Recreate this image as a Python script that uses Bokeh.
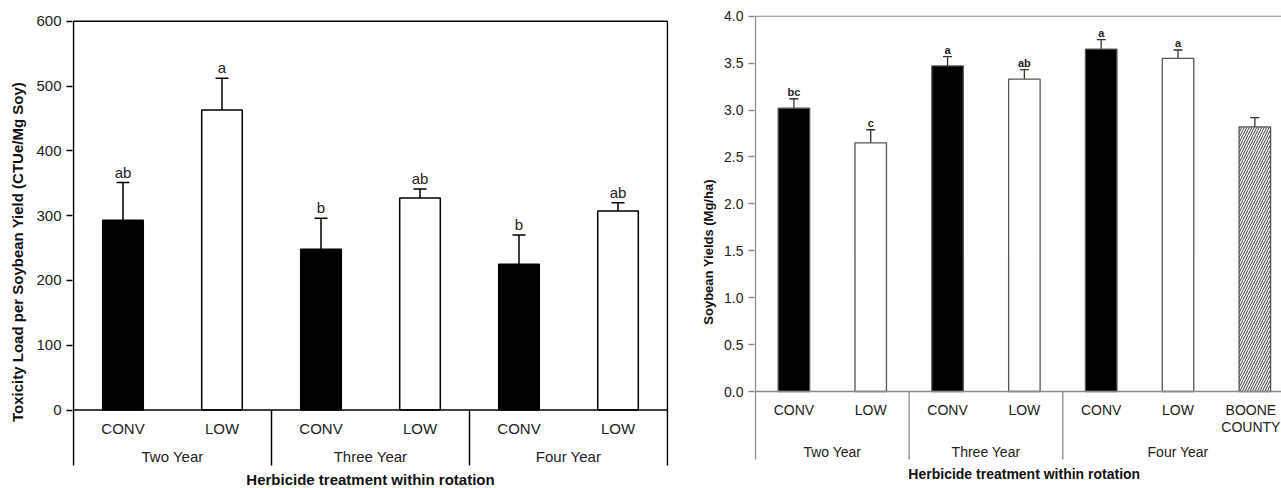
import numpy as np
from bokeh.plotting import figure
from bokeh.models import ColumnDataSource, Range1d, FixedTicker, Whisker, TeeHead, NumeralTickFormatter
from bokeh.layouts import row
from bokeh.embed import file_html
from bokeh.resources import INLINE
from bokeh.core.properties import value

# ---------------- data: left panel (toxicity load) ----------------
tox_groups = ["Two Year", "Three Year", "Four Year"]
tox_group_sizes = [2, 2, 2]
tox_treat = ["CONV", "LOW", "CONV", "LOW", "CONV", "LOW"]
tox_mean = [293, 463, 248, 327, 225, 307]
tox_err = [58, 49, 48, 14, 45, 13]
tox_letters = ["ab", "a", "b", "ab", "b", "ab"]
tox_ticks = [0, 100, 200, 300, 400, 500, 600]

# ---------------- data: right panel (soybean yields) ----------------
yld_groups = ["Two Year", "Three Year", "Four Year"]
yld_group_sizes = [2, 2, 3]
yld_treat = ["CONV", "LOW", "CONV", "LOW", "CONV", "LOW", "BOONE\nCOUNTY"]
yld_mean = [3.02, 2.65, 3.47, 3.33, 3.65, 3.55, 2.82]
yld_err = [0.10, 0.14, 0.10, 0.10, 0.10, 0.09, 0.10]
yld_letters = ["bc", "c", "a", "ab", "a", "a", ""]
yld_ticks = [0.0, 0.5, 1.0, 1.5, 2.0, 2.5, 3.0, 3.5, 4.0]

XTITLE = "Herbicide treatment within rotation"
FONT = "Liberation Sans"
FILL = {"CONV": "black", "LOW": "white"}
H = 488
TOP = 15  # shared top border of both frames (frames are aligned in a row)


def style_fig(p):
    p.grid.visible = False
    p.outline_line_color = None
    p.background_fill_color = "white"
    p.border_fill_color = "white"
    p.xaxis.visible = False


def make_source(treat, mean, err, letters):
    n = len(treat)
    x = np.arange(n) + 0.5
    mean = np.array(mean, dtype=float)
    err = np.array(err, dtype=float)
    fills = [FILL.get(t, "white") for t in treat]
    hatch = ["" if t in FILL else "/" for t in treat]
    return ColumnDataSource(dict(x=x, top=mean, upper=mean + err, lower=mean - err,
                                 fill=fills, hatch=hatch, treat=treat, letter=letters))


def style_yaxis(ax, ticks, color, width, font_size, label, label_size, standoff):
    ax.ticker = FixedTicker(ticks=ticks)
    ax.axis_line_color = None
    ax.major_tick_line_color = color
    ax.major_tick_line_width = width
    ax.major_tick_out = 6
    ax.major_tick_in = 0
    ax.minor_tick_line_color = None
    ax.major_label_standoff = 5
    ax.major_label_text_font = FONT
    ax.major_label_text_font_size = font_size
    ax.major_label_text_color = "#222"
    ax.axis_label = label
    ax.axis_label_text_font = FONT
    ax.axis_label_text_font_size = label_size
    ax.axis_label_text_font_style = "bold"
    ax.axis_label_text_color = "#111"
    ax.axis_label_standoff = standoff


# ================= LEFT =================
n1 = len(tox_treat)
ymax1 = tox_ticks[-1]
PPU1 = 0.648                 # px per unit
Y0_1, YTOP_1 = 409.5, 20.7   # pixel rows of 0 and of the top tick
bot1 = -(465 - Y0_1) / PPU1  # bottom of the group separators
p1 = figure(width=698, height=H, output_backend="svg", toolbar_location=None,
            x_range=Range1d(-0.01, n1 + 0.01),
            y_range=Range1d(-(H - Y0_1) / PPU1, ymax1 + (YTOP_1 - TOP) / PPU1),
            min_border_left=72, min_border_right=30, min_border_top=TOP, min_border_bottom=0)
style_fig(p1)
s1 = make_source(tox_treat, tox_mean, tox_err, tox_letters)

p1.vbar(x="x", top="top", bottom=0, width=0.41, fill_color="fill", line_color="black",
        line_width=1.5, source=s1)
w1 = Whisker(source=s1, base="x", upper="upper", lower="lower", line_color="black", line_width=1.5,
             upper_head=TeeHead(size=13, line_color="black", line_width=1.5),
             lower_head=TeeHead(size=13, line_color="black", line_width=1.5))
p1.add_layout(w1)
p1.text(x="x", y="upper", text="letter", source=s1, text_align="center", text_baseline="bottom",
        y_offset=-2, text_font=value(FONT), text_font_size="15px", text_color="#222")

# axis line at 0, top border, right border, y axis line (down to separator bottom)
p1.segment(x0=[0, 0, n1, 0], y0=[0, ymax1, bot1, bot1], x1=[n1, n1, n1, 0], y1=[0, ymax1, ymax1, ymax1],
           line_color="black", line_width=1.5)
b1 = np.cumsum(tox_group_sizes)[:-1]
p1.segment(x0=b1, y0=bot1, x1=b1, y1=0, line_color="black", line_width=1.5)
p1.text(x=np.arange(n1) + 0.5, y=0, text=tox_treat, y_offset=18, text_align="center",
        text_baseline="middle", text_font=value(FONT), text_font_size="15px", text_color="#222")
gc1 = np.cumsum(tox_group_sizes) - np.array(tox_group_sizes) / 2
p1.text(x=gc1, y=0, text=tox_groups, y_offset=46, text_align="center", text_baseline="middle",
        text_font=value(FONT), text_font_size="15px", text_color="#222")
p1.text(x=[n1 / 2], y=[0], text=[XTITLE], y_offset=69, text_align="center", text_baseline="middle",
        text_font=value(FONT), text_font_size="15px", text_font_style="bold", text_color="#111")

style_yaxis(p1.yaxis[0], tox_ticks, "black", 1.5, "15px",
            "Toxicity Load per Soybean Yield (CTUe/Mg Soy)", "15px", 7)

# ================= RIGHT =================
n2 = len(yld_treat)
ymax2 = yld_ticks[-1]
GRAY = "#8a8a8a"
PPU2 = 93.83
Y0_2, YTOP_2 = 391.0, 15.7
bot2 = -(459 - Y0_2) / PPU2
XPPU2 = 77.7
W2, L2 = 583, 50
x0_2 = -1 / XPPU2
p2 = figure(width=W2, height=H, output_backend="svg", toolbar_location=None,
            x_range=Range1d(x0_2, x0_2 + (W2 - L2) / XPPU2),
            y_range=Range1d(-(H - Y0_2) / PPU2, ymax2 + (YTOP_2 - TOP) / PPU2),
            min_border_left=L2, min_border_right=0, min_border_top=TOP, min_border_bottom=0)
style_fig(p2)
s2 = make_source(yld_treat, yld_mean, yld_err, yld_letters)

p2.vbar(x="x", top="top", bottom=0, width=0.41, fill_color="fill", line_color="#555",
        line_width=1.3, hatch_pattern="hatch", hatch_color="#3a3a3a", hatch_weight=1.0,
        hatch_scale=5, source=s2)
w2 = Whisker(source=s2, base="x", upper="upper", lower="lower", line_color="#333", line_width=1.3,
             upper_head=TeeHead(size=9, line_color="#333", line_width=1.3),
             lower_head=TeeHead(size=9, line_color="#333", line_width=1.3))
p2.add_layout(w2)
p2.text(x="x", y="upper", text="letter", source=s2, text_align="center", text_baseline="bottom",
        y_offset=-1, text_font=value(FONT), text_font_size="11px", text_font_style="bold",
        text_color="#222")

xend2 = p2.x_range.end
p2.segment(x0=[0, 0, 0], y0=[0, ymax2, bot2], x1=[xend2, xend2, 0], y1=[0, ymax2, ymax2],
           line_color=GRAY, line_width=1.3)
b2 = np.cumsum(yld_group_sizes)[:-1]
p2.segment(x0=b2, y0=bot2, x1=b2, y1=0, line_color=GRAY, line_width=1.3)
# keep the last (two-line) label inside the visible area
lab_shift = [0.0] * (n2 - 1) + [-4.0]
p2.text(x=np.arange(n2) + 0.5, y=np.zeros(n2), text=yld_treat, x_offset=lab_shift, y_offset=10,
        text_align="center", text_baseline="top", text_font=value(FONT), text_font_size="14px",
        text_color="#222", text_line_height=1.1)
gc2 = np.cumsum(yld_group_sizes) - np.array(yld_group_sizes) / 2
p2.text(x=gc2, y=0, text=yld_groups, y_offset=60, text_align="center", text_baseline="middle",
        text_font=value(FONT), text_font_size="14px", text_color="#222")
p2.text(x=[(xend2 + 0.15) / 2], y=[0], text=[XTITLE], y_offset=82, text_align="center",
        text_baseline="middle", text_font=value(FONT), text_font_size="14px",
        text_font_style="bold", text_color="#111")

ya2 = p2.yaxis[0]
style_yaxis(ya2, yld_ticks, GRAY, 1.3, "14px", "Soybean Yields (Mg/ha)", "13px", 5)
ya2.formatter = NumeralTickFormatter(format="0.0")

layout = row(p1, p2)
open("out.html", "w").write(file_html(layout, INLINE))
